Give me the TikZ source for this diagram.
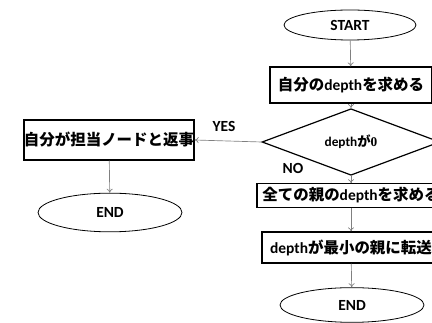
\documentclass[tikz,border=0pt]{standalone}
\usepackage{fontspec}
\setmainfont{Carlito}
\newfontfamily\jpfont{Noto Sans CJK JP}
\newfontfamily\numfont{Liberation Serif}
\newcommand\J[1]{{\jpfont\bfseries #1}}
\usetikzlibrary{shapes.geometric,arrows.meta}
\begin{document}
\begin{tikzpicture}[x=0.75pt,y=-0.75pt,
  every node/.style={font=\bfseries\fontsize{11.6}{13}\selectfont, inner sep=0pt},
  boxnode/.style={draw=black, line width=0.9pt, rectangle},
  ovalnode/.style={draw=black, line width=0.6pt, ellipse},
  dianode/.style={draw=black, line width=0.9pt, diamond},
  conn/.style={draw=black!50, line width=0.5pt, -{To[length=3pt,width=4.5pt]}},
  lbl/.style={font=\bfseries\fontsize{11.6}{13}\selectfont}]
\fill[white] (0,0) rectangle (432,323);
\useasboundingbox (0,0) rectangle (432,323);
\clip (0,0) rectangle (432,323);
\node[ovalnode, minimum width=99pt, minimum height=22.5pt] (start) at (350,25) {START};
\node[boxnode, minimum width=121.5pt, minimum height=27pt] (b1) at (351,85) {\J{自分の}depth\J{を求める}};
\node[dianode, minimum width=133.5pt, minimum height=30pt, font=\bfseries\fontsize{10}{12}\selectfont] (dia) at (351,142) {depth\J{が}{\numfont 0}};
\node[boxnode, minimum width=141pt, minimum height=17.5pt] (b3) at (351,195.5) {\J{全ての親の}depth\J{を求める}};
\node[boxnode, minimum width=133.5pt, minimum height=23.25pt] (b4) at (351,247.5) {depth\J{が最小の親に転送}};
\node[ovalnode, minimum width=108pt, minimum height=26pt] (end2) at (352,305) {END};
\node[boxnode, minimum width=126pt, minimum height=30pt] (lbox) at (109,140) {\J{自分が担当ノードと返事}};
\node[ovalnode, minimum width=108pt, minimum height=29pt] (lend) at (110,212.5) {END};
\node[lbl] (yes) at (224,126) {YES};
\node[lbl] (no) at (293,168) {NO};
\draw[conn] (start) -- (b1);
\draw[conn] (b1) -- (dia);
\draw[conn] (dia) -- (b3);
\draw[conn] (b3) -- (b4);
\draw[conn] (b4) -- (end2);
\draw[conn] (dia.west) -- (lbox.east);
\draw[conn] (lbox) -- (lend);
\end{tikzpicture}
\end{document}
